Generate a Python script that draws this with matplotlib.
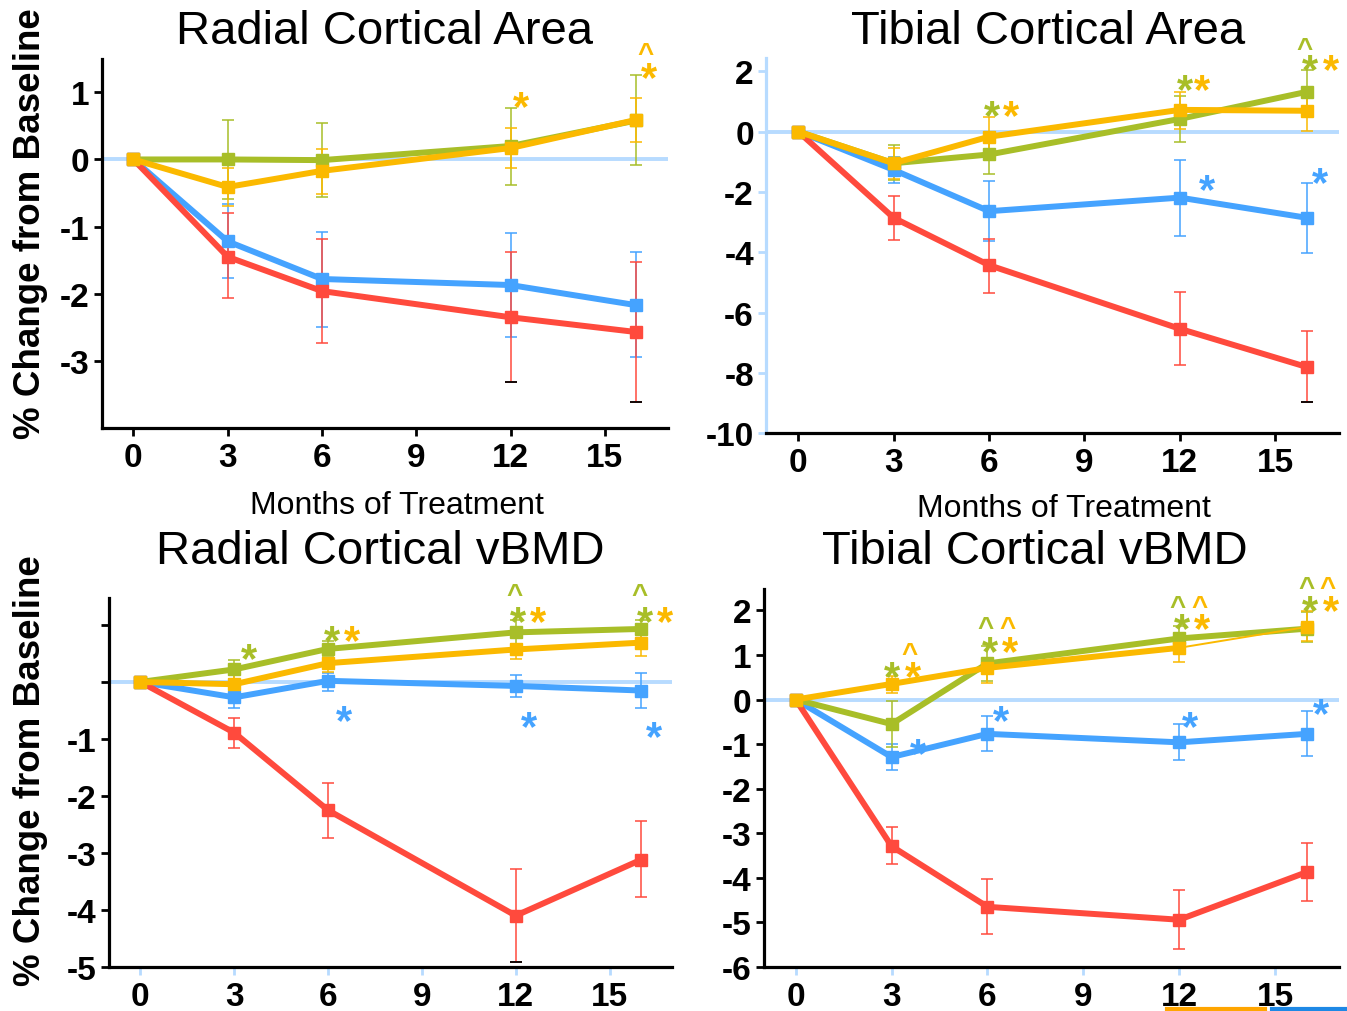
import matplotlib

matplotlib.use("Agg")
import matplotlib.pyplot as plt
from matplotlib import transforms
from matplotlib.lines import Line2D

plt.rcParams["font.family"] = "Liberation Sans"
plt.rcParams["axes.unicode_minus"] = False

TICK_SIZE = 24

RED, BLUE, GREEN, YELLOW = "#ff4a3d", "#45a3ff", "#a8be28", "#fbb900"
ZERO = "#b7dbff"
COL = {"r": RED, "b": BLUE, "g": GREEN, "y": YELLOW}

months = [0, 3, 6, 12, 16]

# Radial cortical area
rca_red = [0, -1.45, -1.96, -2.35, -2.57]
rca_red_lo = [0, -2.07, -2.74, -3.32, -3.61]
rca_red_hi = [0, -0.80, -1.18, -1.38, -1.53]
rca_blue = [0, -1.22, -1.78, -1.87, -2.17]
rca_blue_lo = [0, -1.77, -2.49, -2.64, -2.94]
rca_blue_hi = [0, -0.66, -1.08, -1.10, -1.38]
rca_green = [0, 0.00, -0.01, 0.20, 0.58]
rca_green_lo = [0, -0.59, -0.56, -0.38, -0.09]
rca_green_hi = [0, 0.58, 0.55, 0.77, 1.25]
rca_yellow = [0, -0.41, -0.17, 0.17, 0.59]
rca_yellow_lo = [0, -0.70, -0.51, -0.13, 0.26]
rca_yellow_hi = [0, -0.12, 0.16, 0.47, 0.92]

# Tibial cortical area
tca_red = [0, -2.86, -4.43, -6.54, -7.81]
tca_red_lo = [0, -3.60, -5.34, -7.73, -8.98]
tca_red_hi = [0, -2.14, -3.57, -5.33, -6.61]
tca_blue = [0, -1.27, -2.64, -2.19, -2.86]
tca_blue_lo = [0, -1.70, -3.63, -3.47, -4.01]
tca_blue_hi = [0, -0.85, -1.65, -0.93, -1.69]
tca_green = [0, -1.05, -0.76, 0.42, 1.32]
tca_green_lo = [0, -1.62, -1.40, -0.35, 0.60]
tca_green_hi = [0, -0.46, -0.12, 1.19, 2.05]
tca_yellow = [0, -1.05, -0.17, 0.72, 0.69]
tca_yellow_lo = [0, -1.56, -0.80, 0.09, 0.01]
tca_yellow_hi = [0, -0.54, 0.47, 1.32, 1.43]

# Radial cortical vBMD
rvb_red = [0, -0.89, -2.25, -4.10, -3.12]
rvb_red_lo = [0, -1.15, -2.74, -4.92, -3.77]
rvb_red_hi = [0, -0.64, -1.77, -3.28, -2.44]
rvb_blue = [0, -0.27, 0.02, -0.07, -0.15]
rvb_blue_lo = [0, -0.45, -0.16, -0.27, -0.45]
rvb_blue_hi = [0, -0.13, 0.15, 0.12, 0.16]
rvb_green = [0, 0.22, 0.58, 0.87, 0.93]
rvb_green_lo = [0, 0.06, 0.45, 0.66, 0.77]
rvb_green_hi = [0, 0.38, 0.72, 1.08, 1.09]
rvb_yellow = [0, -0.04, 0.33, 0.57, 0.69]
rvb_yellow_lo = [0, -0.23, 0.18, 0.40, 0.45]
rvb_yellow_hi = [0, 0.13, 0.42, 0.66, 0.89]

# Tibial cortical vBMD
tvb_red = [0, -3.29, -4.65, -4.94, -3.87]
tvb_red_lo = [0, -3.68, -5.25, -5.59, -4.52]
tvb_red_hi = [0, -2.86, -4.03, -4.27, -3.21]
tvb_blue = [0, -1.29, -0.77, -0.96, -0.77]
tvb_blue_lo = [0, -1.59, -1.16, -1.36, -1.27]
tvb_blue_hi = [0, -0.99, -0.37, -0.54, -0.26]
tvb_green = [0, -0.55, 0.81, 1.37, 1.59]
tvb_green_lo = [0, -1.06, 0.41, 1.10, 1.30]
tvb_green_hi = [0, -0.04, 1.20, 1.65, 1.97]
tvb_yellow = [0, 0.35, 0.71, 1.16, 1.63]
tvb_yellow_lo = [0, 0.15, 0.37, 0.85, 1.31]
tvb_yellow_hi = [0, 0.52, 0.88, 1.42, 1.98]

# significance marks: (month, value, symbol, series)
rca_marks = [(12.33, 0.95, "*", "y"), (16.3, 1.70, "^", "y"), (16.4, 1.38, "*", "y")]
tca_marks = [(6.1, 0.88, "*", "g"), (6.68, 0.88, "*", "y"),
             (12.15, 1.74, "*", "g"), (12.68, 1.74, "*", "y"),
             (15.93, 3.0, "^", "g"), (16.08, 2.4, "*", "g"), (16.74, 2.4, "*", "y"),
             (12.85, -1.56, "*", "b"), (16.4, -1.34, "*", "b")]
rvb_marks = [(3.46, 0.60, "*", "g"),
             (6.11, 0.92, "*", "g"), (6.75, 0.92, "*", "y"),
             (11.96, 1.67, "^", "g"), (12.07, 1.25, "*", "g"), (12.72, 1.25, "*", "y"),
             (15.97, 1.67, "^", "g"), (16.14, 1.25, "*", "g"), (16.78, 1.25, "*", "y"),
             (6.5, -0.49, "*", "b"), (12.42, -0.59, "*", "b"), (16.43, -0.76, "*", "b")]
tvb_marks = [(3.57, 1.20, "^", "y"), (3.02, 0.75, "*", "g"), (3.66, 0.75, "*", "y"),
             (5.95, 1.80, "^", "g"), (6.62, 1.80, "^", "y"),
             (6.09, 1.31, "*", "g"), (6.72, 1.31, "*", "y"),
             (11.96, 2.26, "^", "g"), (12.65, 2.26, "^", "y"),
             (12.08, 1.83, "*", "g"), (12.72, 1.83, "*", "y"),
             (16.0, 2.69, "^", "g"), (16.64, 2.69, "^", "y"),
             (16.11, 2.24, "*", "g"), (16.75, 2.24, "*", "y"),
             (3.82, -0.97, "*", "b"), (6.43, -0.22, "*", "b"),
             (12.34, -0.36, "*", "b"), (16.44, -0.07, "*", "b")]

# red points whose lower cap is drawn black in the original
rca_black_caps = [3, 4]
tca_black_caps = [4]
rvb_black_caps = [3]
tvb_black_caps = []


def draw(ax, series, marks, black_caps, ylim, yticks, ylabels,
         ytick_col="black", xtick_col="black", left_col="black", thin_tail=()):
    ax.set_xlim(-1, 17)
    ax.set_ylim(*ylim)
    ax.axhline(0, color=ZERO, lw=2.8, zorder=1)
    for key, vals, lo, hi in series:
        c = COL[key]
        err = [[v - l for v, l in zip(vals, lo)], [h - v for v, h in zip(vals, hi)]]
        ax.errorbar(months, vals, yerr=err, fmt="none", ecolor=c, elinewidth=1.1,
                    capsize=4, capthick=1.1, zorder=2)
        if key in thin_tail:
            # last segment drawn thin in the original
            ax.plot(months[-2:], vals[-2:], color=c, lw=1.4, zorder=3)
            ax.plot(months[:-1], vals[:-1], color=c, lw=4.3, marker="s", ms=9, zorder=3)
            ax.plot(months[-1:], vals[-1:], color=c, lw=0, marker="s", ms=9, zorder=3)
        else:
            ax.plot(months, vals, color=c, lw=4.3, marker="s", ms=9, zorder=3)
        if key == "r":
            for i in black_caps:
                ax.plot(months[i], lo[i], marker="_", color="black", ms=8, mew=1.3, zorder=4)
    for x, y, s, k in marks:
        fs = 30 if s == "*" else 20
        off = transforms.offset_copy(ax.transData, fig=ax.figure, x=0,
                                     y=-(0.56 if s == "*" else 0.55) * fs, units="points")
        ax.text(x, y, s, color=COL[k], fontsize=fs, fontweight="bold",
                ha="center", va="baseline", transform=off, zorder=5)
    for s in ("top", "right"):
        ax.spines[s].set_visible(False)
    ax.spines["left"].set_linewidth(2.3)
    ax.spines["bottom"].set_linewidth(2.3)
    ax.spines["left"].set_color(left_col)
    ax.set_xticks([0, 3, 6, 9, 12, 15])
    ax.set_yticks(yticks)
    ax.set_yticklabels(ylabels)
    ax.tick_params(axis="x", length=6, width=2, color=xtick_col, pad=4)
    ax.tick_params(axis="y", length=6, width=2, color=ytick_col, pad=3)
    for lab in ax.get_xticklabels() + ax.get_yticklabels():
        lab.set_fontsize(TICK_SIZE)
        lab.set_fontweight("bold")


fig = plt.figure(figsize=(13.47, 10.12), dpi=100)

ax1 = fig.add_axes([0.0757, 0.576, 0.420, 0.365])
draw(ax1, [("b", rca_blue, rca_blue_lo, rca_blue_hi), ("r", rca_red, rca_red_lo, rca_red_hi),
           ("g", rca_green, rca_green_lo, rca_green_hi), ("y", rca_yellow, rca_yellow_lo, rca_yellow_hi)],
     rca_marks, rca_black_caps, (-4, 1.5), [1, 0, -1, -2, -3], ["1", "0", "-1", "-2", "-3"])

ax2 = fig.add_axes([0.569, 0.571, 0.425, 0.371])
draw(ax2, [("b", tca_blue, tca_blue_lo, tca_blue_hi), ("r", tca_red, tca_red_lo, tca_red_hi),
           ("g", tca_green, tca_green_lo, tca_green_hi), ("y", tca_yellow, tca_yellow_lo, tca_yellow_hi)],
     tca_marks, tca_black_caps, (-10, 2.45), [2, 0, -2, -4, -6, -8, -10],
     ["2", "0", "-2", "-4", "-6", "-8", "-10"], ytick_col=ZERO, left_col=ZERO)

ax3 = fig.add_axes([0.081, 0.0435, 0.418, 0.365])
draw(ax3, [("b", rvb_blue, rvb_blue_lo, rvb_blue_hi), ("r", rvb_red, rvb_red_lo, rvb_red_hi),
           ("g", rvb_green, rvb_green_lo, rvb_green_hi), ("y", rvb_yellow, rvb_yellow_lo, rvb_yellow_hi)],
     rvb_marks, rvb_black_caps, (-5, 1.48), [1, 0, -1, -2, -3, -4, -5],
     ["", "", "-1", "-2", "-3", "-4", "-5"], xtick_col=ZERO)

ax4 = fig.add_axes([0.567, 0.0435, 0.427, 0.3735])
draw(ax4, [("b", tvb_blue, tvb_blue_lo, tvb_blue_hi), ("r", tvb_red, tvb_red_lo, tvb_red_hi),
           ("g", tvb_green, tvb_green_lo, tvb_green_hi), ("y", tvb_yellow, tvb_yellow_lo, tvb_yellow_hi)],
     tvb_marks, tvb_black_caps, (-6, 2.48), [2, 1, 0, -1, -2, -3, -4, -5, -6],
     ["2", "1", "0", "-1", "-2", "-3", "-4", "-5", "-6"], xtick_col=ZERO, thin_tail=("y",))

# titles and labels
fig.text(0.2858, 0.968, "Radial Cortical Area", fontsize=34, ha="center", va="center")
fig.text(0.778, 0.968, "Tibial Cortical Area", fontsize=34, ha="center", va="center")
fig.text(0.282, 0.455, "Radial Cortical vBMD", fontsize=34, ha="center", va="center")
fig.text(0.768, 0.455, "Tibial Cortical vBMD", fontsize=34, ha="center", va="center")

fig.text(0.2947, 0.500, "Months of Treatment", fontsize=23, ha="center", va="center")
fig.text(0.790, 0.497, "Months of Treatment", fontsize=23, ha="center", va="center")

fig.text(0.0223, 0.779, "% Change from Baseline", fontsize=26.5, fontweight="bold",
         rotation=90, ha="center", va="center")
fig.text(0.0223, 0.239, "% Change from Baseline", fontsize=26.5, fontweight="bold",
         rotation=90, ha="center", va="center")

# cut-off legend swatches at the bottom edge
fig.add_artist(Line2D([0.866, 0.939], [0.0015, 0.0015], color="#ffa500", lw=3,
                      transform=fig.transFigure))
fig.add_artist(Line2D([0.944, 1.0], [0.0015, 0.0015], color="#1e88e5", lw=3,
                      transform=fig.transFigure))

fig.savefig("out.png", dpi=100)
